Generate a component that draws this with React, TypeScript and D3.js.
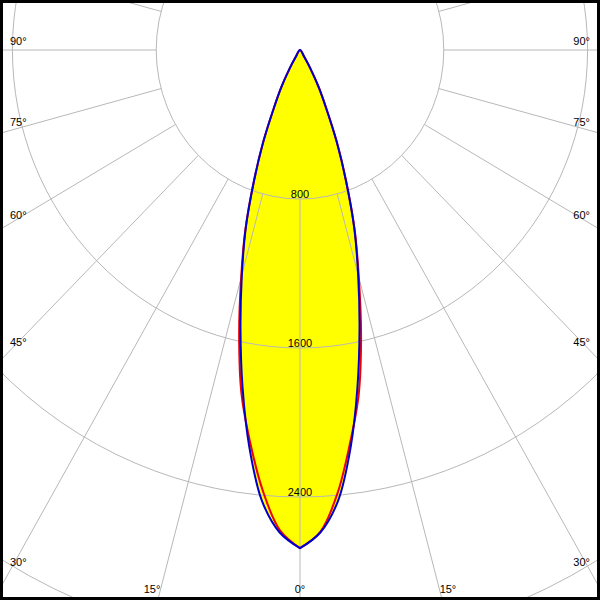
import React from "react"
import * as d3 from "d3"

// gamma angles (deg from nadir) and luminous intensity (cd) per C-plane
const GAMMA = [0, 2.5, 5, 7.5, 10, 12.5, 15, 17.5, 20, 22.5, 25, 27.5, 30, 32.5, 35]
const C0 = [2675, 2590, 2390, 2130, 1880, 1570, 1265, 1010, 750, 535, 345, 225, 120, 45, 0]
const C180 = [2675, 2580, 2375, 2125, 1875, 1565, 1265, 1010, 750, 535, 345, 225, 120, 45, 0]
const C90 = [2675, 2593, 2430, 2155, 1840, 1530, 1250, 1005, 750, 535, 345, 225, 120, 45, 0]
const C270 = [2675, 2593, 2430, 2155, 1840, 1530, 1250, 1005, 750, 535, 345, 225, 120, 45, 0]

const RINGS = [800, 1600, 2400, 3200]
const RING_LABELS = [800, 1600, 2400]
const ANGLE_LABELS = [0, 15, 30, 45, 60, 75, 90]
const SPOKE_STEP = 15

const W = 600
const H = 600
const cx = 300
const cy = 50
const INSET = 10

const rY = d3.scaleLinear().domain([0, 800]).range([0, 149])
const rX = d3.scaleLinear().domain([0, 800]).range([0, 149 * 0.965])
const rad = (deg: number) => (deg * Math.PI) / 180

type P = [number, number]

const pt = (g: number, v: number, side: number): P => [
  cx + side * rX(v) * Math.sin(rad(g)),
  cy + rY(v) * Math.cos(rad(g)),
]

const line = d3
  .line<P>()
  .x((d) => d[0])
  .y((d) => d[1])
  .curve(d3.curveCatmullRom.alpha(0.5))

// closed outline: left half from nadir up to the centre, then right half back down
const outline = (left: number[], right: number[]) => {
  const l = GAMMA.map((g, i) => pt(g, left[i], -1))
  const r = GAMMA.map((g, i) => pt(g, right[i], 1)).reverse()
  return line([...l, ...r.slice(1)]) + "Z"
}

const FONT = "'Liberation Sans', Arial, sans-serif"

export default function App() {
  const redPath = outline(C180, C0)
  const bluePath = outline(C270, C90)

  const spokes = d3.range(0, 360, SPOKE_STEP).map((a) => {
    const [x1, y1] = pt(a, RINGS[0], 1)
    const [x2, y2] = pt(a, 6000, 1)
    return { a, x1, y1, x2, y2 }
  })

  const angleLabels: { key: string; x: number; y: number; anchor: string; text: string }[] = []
  ANGLE_LABELS.forEach((a) => {
    const sides = a === 0 ? [1] : [-1, 1]
    sides.forEach((side) => {
      const ux = rX(1) * Math.sin(rad(a))
      const uy = rY(1) * Math.cos(rad(a))
      const tSide = ux > 1e-9 ? (cx - INSET) / ux : Infinity
      const tBottom = uy > 1e-9 ? (H - INSET - cy) / uy : Infinity
      if (tSide < tBottom) {
        angleLabels.push({
          key: `${a}-${side}`,
          x: side < 0 ? INSET : W - INSET,
          y: cy + uy * tSide - 5,
          anchor: side < 0 ? "start" : "end",
          text: `${a}\u00b0`,
        })
      } else {
        angleLabels.push({
          key: `${a}-${side}`,
          x: cx + side * ux * tBottom,
          y: H - INSET + 3,
          anchor: a === 0 ? "middle" : side < 0 ? "end" : "start",
          text: `${a}\u00b0`,
        })
      }
    })
  })

  return (
    <svg
      width={W}
      height={H}
      style={{ position: "absolute", left: 0, top: 0 }}
      fontFamily={FONT}
      fontSize={11}
    >
      <defs>
        <clipPath id="frame-clip">
          <rect x={0} y={0} width={W} height={H} />
        </clipPath>
      </defs>
      <rect x={0} y={0} width={W} height={H} fill="#ffffff" />

      <path d={redPath} fill="#ffff00" stroke="none" />
      <path d={bluePath} fill="#ffff00" stroke="none" />

      {RING_LABELS.map((v) => (
        <text key={v} x={cx} y={cy + rY(v) - 1} textAnchor="middle" fill="#000">
          {v}
        </text>
      ))}

      <g clipPath="url(#frame-clip)" stroke="#b8b8b8" strokeWidth={1} fill="none">
        {RINGS.map((v) => (
          <ellipse key={v} cx={cx} cy={cy} rx={rX(v)} ry={rY(v)} />
        ))}
        {spokes.map((s) => (
          <line key={s.a} x1={s.x1} y1={s.y1} x2={s.x2} y2={s.y2} />
        ))}
      </g>

      <path d={redPath} fill="none" stroke="#ee0000" strokeWidth={2} strokeLinejoin="round" />
      <path d={bluePath} fill="none" stroke="#0000cc" strokeWidth={2} strokeLinejoin="round" />

      {angleLabels.map((l) => (
        <text key={l.key} x={l.x} y={l.y} textAnchor={l.anchor} fill="#000">
          {l.text}
        </text>
      ))}

      <rect x={1.5} y={1.5} width={W - 3} height={H - 3} fill="none" stroke="#000" strokeWidth={3} />
    </svg>
  )
}
